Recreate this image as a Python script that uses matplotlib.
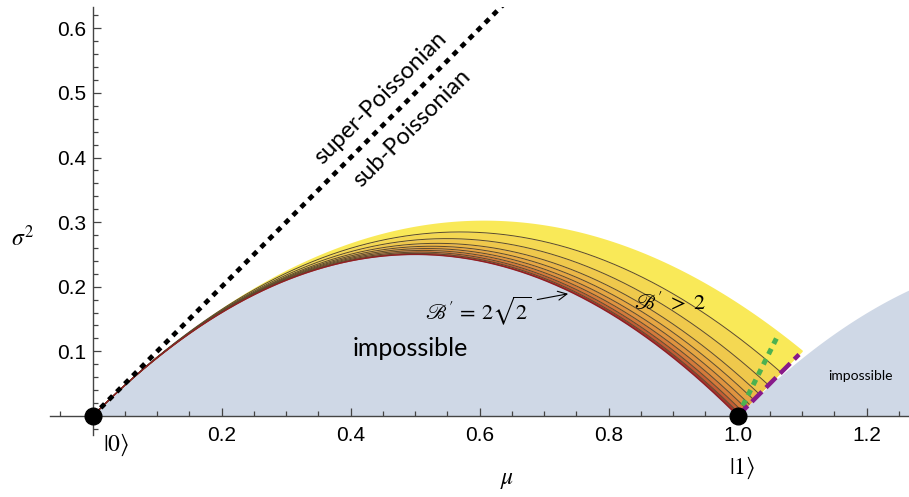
import numpy as np
import matplotlib
matplotlib.use('Agg')
import matplotlib.pyplot as plt
from matplotlib.ticker import FixedLocator

plt.rcParams['font.family'] = ['Liberation Sans', 'DejaVu Sans']

# curvature levels a of the contour family  sigma^2 = mu - a*mu^2
# (a = 1 is the lower bound mu(1-mu), the smallest a is the B' = 2 edge)
band_levels = [0.825, 0.878, 0.911, 0.936, 0.952, 0.965, 0.976, 0.986, 0.994, 1.0]
band_colors = ['#f9e958', '#f4d852', '#efc84c', '#ebb747', '#e6a643',
               '#df9340', '#d47a3b', '#c35c35', '#a3362c']

x_major = [0.2, 0.4, 0.6, 0.8, 1.0, 1.2]
y_major = [0.1, 0.2, 0.3, 0.4, 0.5, 0.6]
fock_mu = [0.0, 1.0]
fock_labels = [r'$|0\rangle$', r'$|1\rangle$']
green_mu = [1.0, 1.06]
purple_mu = [1.0, 1.095]

xlim = (-0.0662, 1.2655)
ylim = (-0.0296, 0.633)

fig = plt.figure(figsize=(9.09, 4.97), dpi=100)
ax = fig.add_axes([50 / 909, 62 / 497, 859 / 909, 428 / 497])
ax.set_xlim(*xlim)
ax.set_ylim(*ylim)

# minimal variance for integer-valued distributions: frac(mu)*(1-frac(mu))
mu = np.linspace(0, xlim[1], 2000)
frac = mu - np.floor(mu)
vmin = frac * (1 - frac)
ax.fill_between(mu, 0, vmin, color='#cfd8e6', lw=0, zorder=1)

# coloured band between the contour curves, cut by sigma^2 = mu - 1
mb = np.linspace(0, 1.1, 3000)
lower = np.maximum(mb * (1 - mb), mb - 1)
for a_top, a_bot, col in zip(band_levels[:-1], band_levels[1:], band_colors):
    top = mb - a_top * mb ** 2
    bot = np.maximum(mb - a_bot * mb ** 2, lower)
    ax.fill_between(mb, bot, top, where=top >= bot, color=col, lw=0, zorder=2)
for a in band_levels[1:-1]:
    c = mb - a * mb ** 2
    c = np.where(c >= lower, c, np.nan)
    ax.plot(mb, c, color='#5b4a2c', lw=0.7, zorder=3)
m1 = mb[mb <= 1]
ax.plot(m1, m1 * (1 - m1), color='#8e1f24', lw=1.0, zorder=3)

# Poisson line sigma^2 = mu
mp = np.array([0, 0.7])
ax.plot(mp, mp, color='black', lw=3.4, ls=(0, (1.2, 1.2)), dash_capstyle='butt', zorder=4)

gm = np.array(green_mu)
ax.plot(gm, 2 * (gm - 1), color='#4cb150', lw=3.6, ls=(0, (1.2, 1.1)),
        dash_capstyle='butt', zorder=5)
pm = np.array(purple_mu)
ax.plot(pm, pm - 1, color='#871a8a', lw=3.2, ls=(0, (3.2, 1.3)),
        dash_capstyle='butt', zorder=5)

ax.plot(fock_mu, [0, 0], 'o', color='black', ms=12, clip_on=False, zorder=10)

# axes through the origin
for s in ['top', 'right']:
    ax.spines[s].set_visible(False)
ax.spines['left'].set_position(('data', 0))
ax.spines['bottom'].set_position(('data', 0))
for s in ['left', 'bottom']:
    ax.spines[s].set_color('#444444')
    ax.spines[s].set_linewidth(1.0)
    ax.spines[s].set_zorder(6)
ax.xaxis.set_major_locator(FixedLocator(x_major))
ax.yaxis.set_major_locator(FixedLocator(y_major))
x_minor = [v for v in np.arange(-0.05, 1.27, 0.05) if min(abs(v - np.array(x_major + [0]))) > 1e-6]
y_minor = [v for v in np.arange(-0.02, 0.64, 0.02) if min(abs(v - np.array(y_major + [0]))) > 1e-6]
ax.xaxis.set_minor_locator(FixedLocator(x_minor))
ax.yaxis.set_minor_locator(FixedLocator(y_minor))
ax.set_xticklabels([f'{v:.1f}' for v in x_major])
ax.set_yticklabels([f'{v:.1f}' for v in y_major])
ax.tick_params(which='both', direction='in', color='#444444', width=0.9)
ax.tick_params(which='major', length=6, labelsize=15)
ax.tick_params(which='minor', length=3.5)
ax.tick_params(axis='x', pad=7)
ax.tick_params(axis='y', pad=5)
ax.patch.set_visible(False)

ax.text(-0.108, 0.275, r'$\sigma^2$', fontsize=17, math_fontfamily='stix',
        ha='center', va='center', clip_on=False)
ax.text(0.642, -0.099, r'$\mu$', fontsize=17, math_fontfamily='stix',
        ha='center', va='center', clip_on=False)
ax.text(0.036, -0.045, fock_labels[0], fontsize=17, math_fontfamily='stix',
        ha='center', va='center', clip_on=False)
ax.text(1.007, -0.081, fock_labels[1], fontsize=17, math_fontfamily='stix',
        ha='center', va='center', clip_on=False)

lab = dict(family=['Lato', 'DejaVu Sans'], rotation=45, rotation_mode='anchor',
           ha='center', va='center', fontsize=17, zorder=7)
ax.text(0.446, 0.493, 'super-Poissonian', **lab)
ax.text(0.495, 0.445, 'sub-Poissonian', **lab)

ax.text(0.492, 0.105, 'impossible', family=['Lato', 'DejaVu Sans'], fontsize=18,
        ha='center', va='center', zorder=7)
ax.text(1.191, 0.062, 'impossible', family=['Lato', 'DejaVu Sans'], fontsize=10,
        ha='center', va='center', zorder=7)

ax.annotate(r"$\mathscr{B}'\,=\,2\sqrt{2}$", xy=(0.737, 0.189), xytext=(0.598, 0.163),
            fontsize=16, math_fontfamily='stix', ha='center', va='center', zorder=8,
            arrowprops=dict(arrowstyle='->', color='black', lw=0.8, shrinkA=2, shrinkB=0))
ax.text(0.895, 0.175, r"$\mathscr{B}'\;>\;2$", fontsize=16, math_fontfamily='stix',
        ha='center', va='center', zorder=8)

fig.savefig('out.png', dpi=100)
